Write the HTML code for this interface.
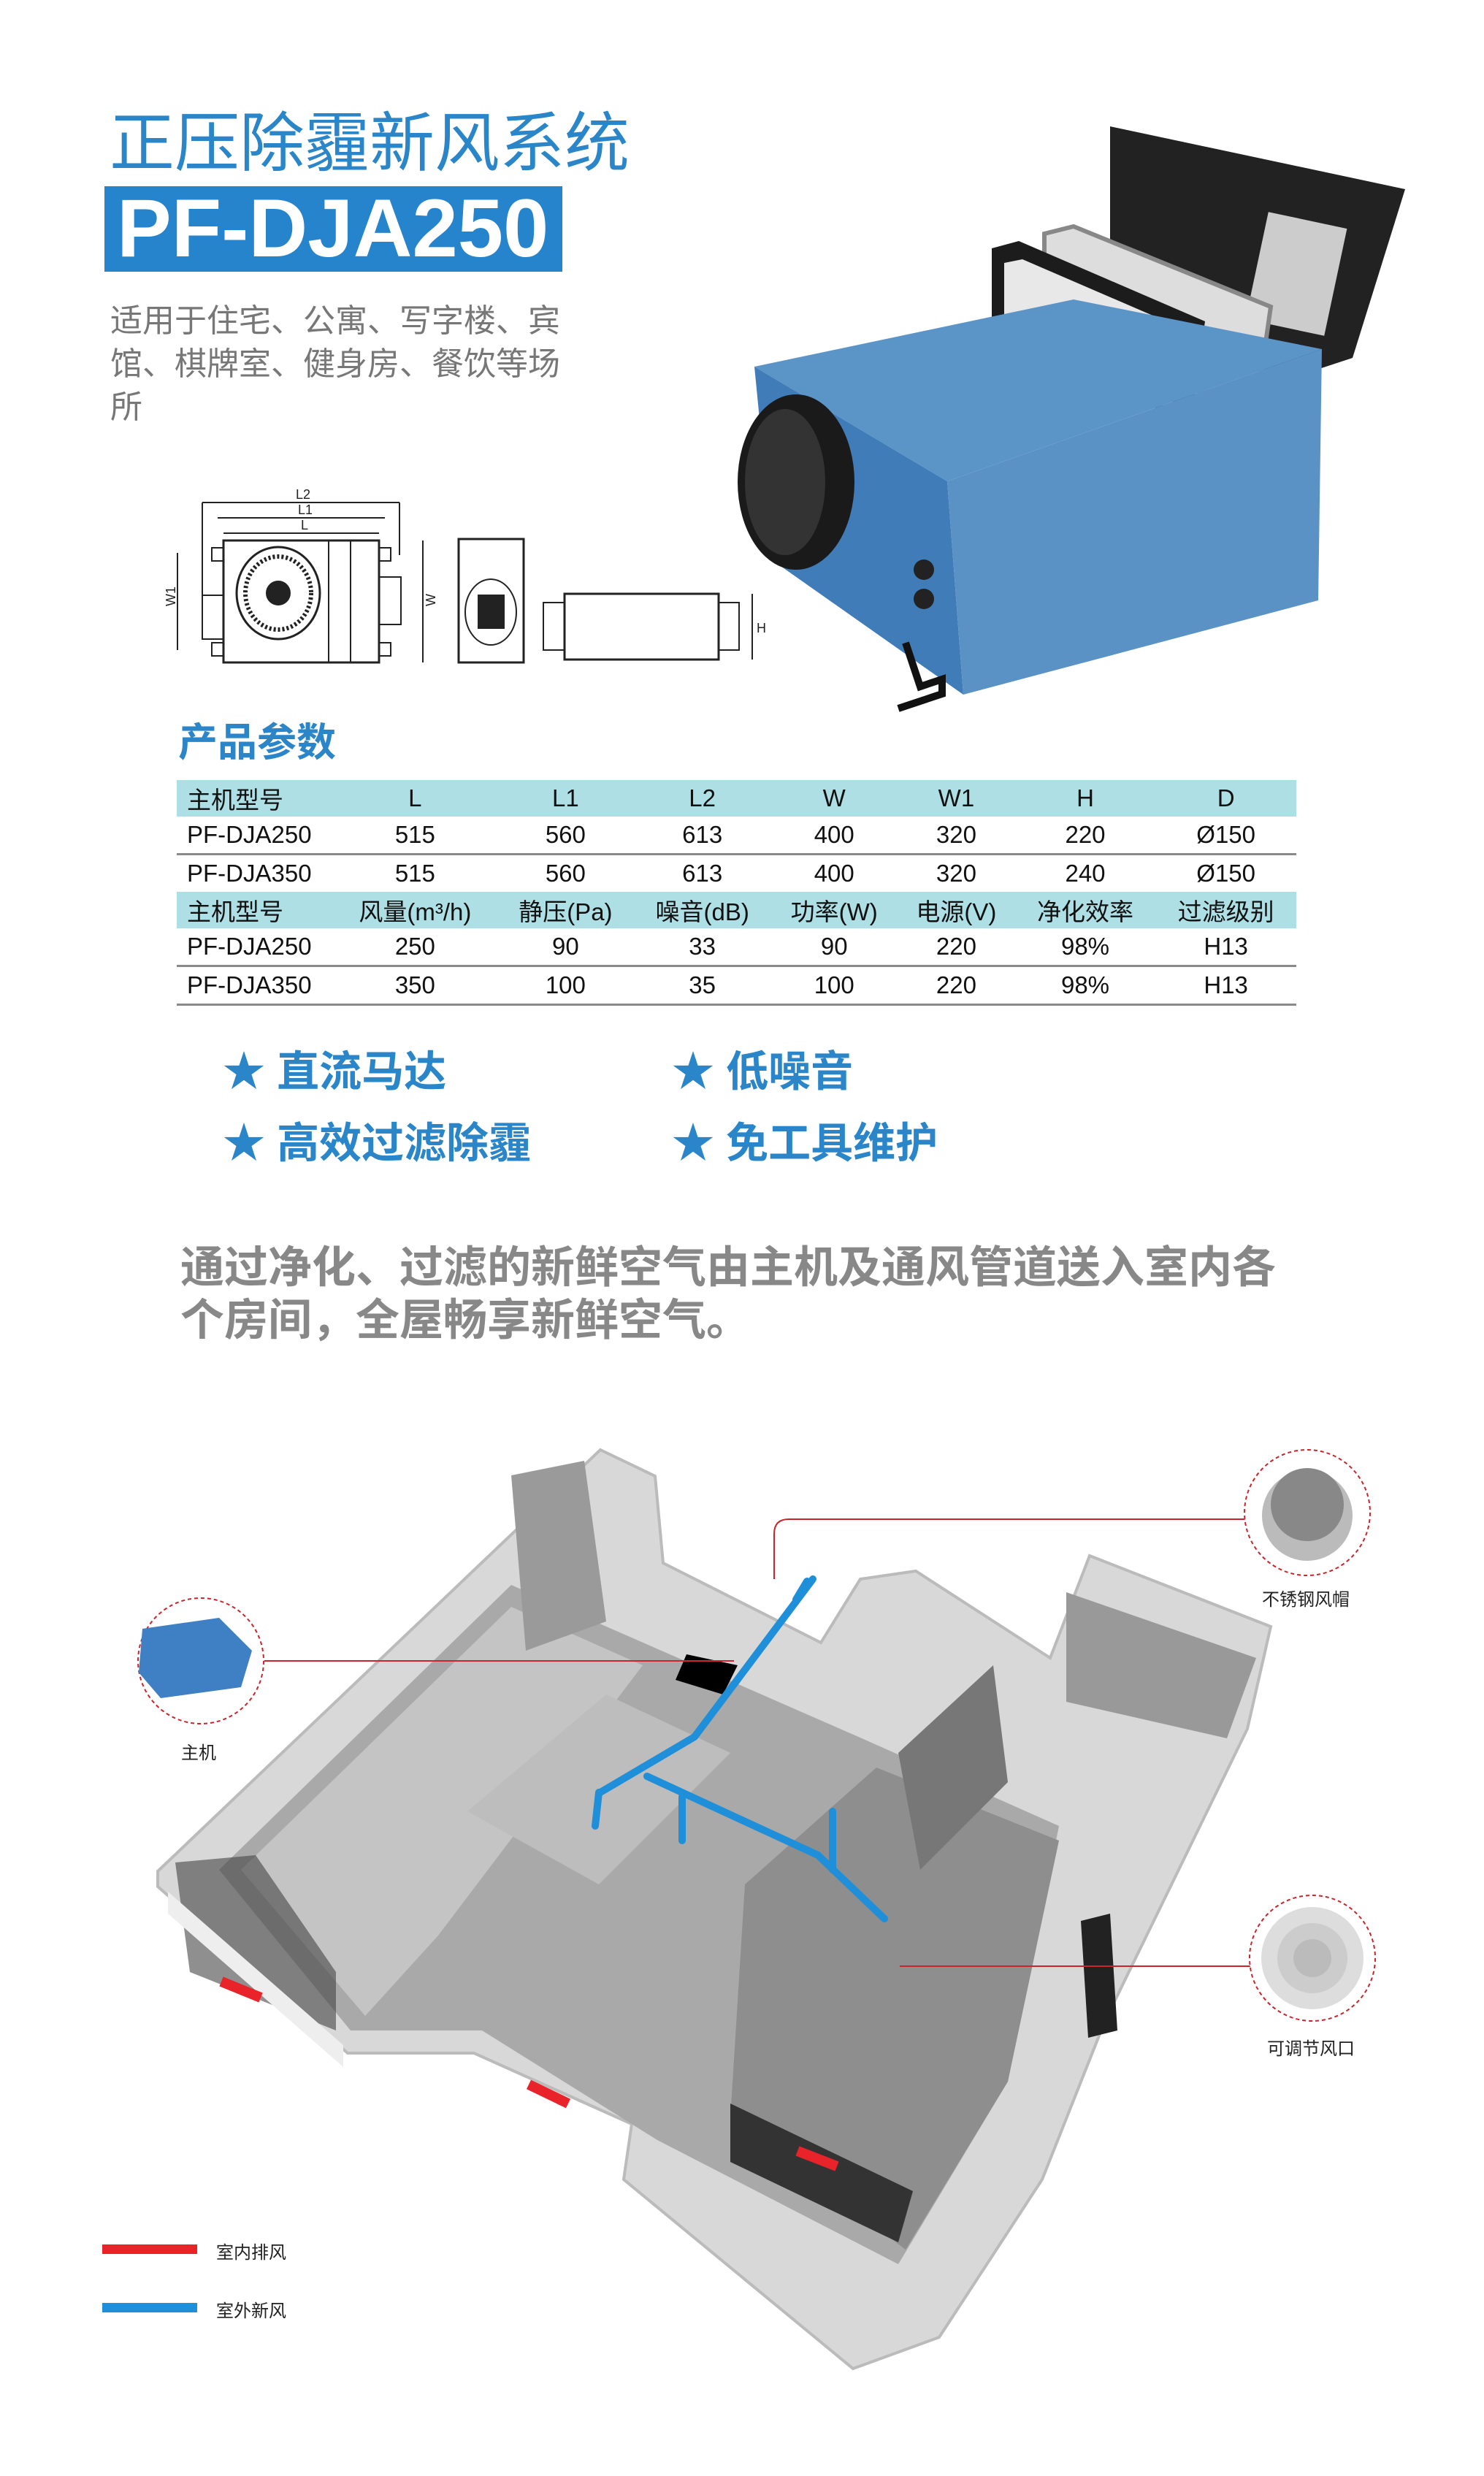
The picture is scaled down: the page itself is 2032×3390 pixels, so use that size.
<!DOCTYPE html>
<html><head><meta charset="utf-8"><style>
body{margin:0;}
#p{position:relative;width:2032px;height:3390px;background:#fff;overflow:hidden;font-family:"Liberation Sans","Noto Sans CJK SC",sans-serif;}
.a{position:absolute;white-space:nowrap;}
table{position:absolute;left:242px;top:1068px;width:1533px;border-collapse:collapse;font-size:33px;color:#111;}
td{height:50px;padding:0;text-align:center;}
td:first-child{text-align:left;padding-left:14px;width:200px;}
tr.h td{background:#aedfe5;}
tr.b td{border-bottom:3px solid #8a8a8a;}
.star{font-size:58px;font-weight:bold;color:#2a86c8;}
svg{position:absolute;left:0;top:0;}
</style></head><body><div id="p">
<svg width="2032" height="3390" viewBox="0 0 2032 3390">
 <polygon points="1520,173 1924,259 1852,490 1700,540 1520,420" fill="#222"/>
 <rect x="1720" y="300" width="110" height="150" fill="#ccc" transform="rotate(12 1775 375)"/>
 <polygon points="1430,320 1470,310 1740,420 1720,560 1430,470" fill="#ddd" stroke="#888" stroke-width="6"/>
 <polygon points="1358,340 1395,330 1650,440 1630,580 1358,460" fill="#1c1c1c"/>
 <polygon points="1375,360 1400,355 1620,450 1605,560 1375,470" fill="#e8e8e8"/>
 <polygon points="1033,502 1470,410 1810,478 1297,659" fill="#5b95c8"/>
 <polygon points="1033,502 1297,659 1319,951 1059,768" fill="#3f7cb8"/>
 <polygon points="1297,659 1810,478 1805,822 1319,951" fill="#5a92c6"/>
 <ellipse cx="1090" cy="660" rx="80" ry="120" fill="#1a1a1a"/>
 <ellipse cx="1075" cy="660" rx="55" ry="100" fill="#333"/>
 <path d="M1240 880 l20 60 30 -10 0 20 -60 20" stroke="#111" stroke-width="10" fill="none"/>
 <circle cx="1265" cy="780" r="14" fill="#222"/><circle cx="1265" cy="820" r="14" fill="#222"/>
 <g stroke="#222" stroke-width="2" fill="none">
  <line x1="277" y1="688" x2="547" y2="688"/><line x1="298" y1="709" x2="527" y2="709"/><line x1="306" y1="730" x2="519" y2="730"/>
  <line x1="277" y1="688" x2="277" y2="860"/><line x1="547" y1="688" x2="547" y2="760"/>
  <rect x="306" y="740" width="213" height="167" stroke-width="3"/>
  <rect x="290" y="750" width="16" height="18"/><rect x="519" y="750" width="16" height="18"/>
  <rect x="290" y="880" width="16" height="18"/><rect x="519" y="880" width="16" height="18"/>
  <ellipse cx="381" cy="812" rx="57" ry="63" stroke-width="3"/><ellipse cx="381" cy="812" rx="45" ry="50" stroke-width="6" stroke-dasharray="3 3"/>
  <circle cx="381" cy="812" r="16" fill="#222"/>
  <rect x="277" y="815" width="29" height="60"/><rect x="519" y="790" width="30" height="65"/>
  <line x1="450" y1="740" x2="450" y2="907"/><line x1="480" y1="740" x2="480" y2="907"/>
  <line x1="579" y1="740" x2="579" y2="907"/><line x1="243" y1="757" x2="243" y2="890"/>
  <rect x="628" y="738" width="89" height="169" stroke-width="3"/>
  <ellipse cx="672" cy="838" rx="35" ry="45"/><rect x="655" y="815" width="35" height="45" fill="#222"/>
  <rect x="773" y="813" width="211" height="90" stroke-width="3"/>
  <rect x="744" y="825" width="29" height="65"/><rect x="984" y="825" width="28" height="65"/>
  <line x1="1030" y1="813" x2="1030" y2="903"/>
 </g>
 <g font-size="18" fill="#222" font-family="Liberation Sans">
  <text x="405" y="683">L2</text><text x="408" y="704">L1</text><text x="412" y="725">L</text>
  <text x="240" y="830" transform="rotate(-90 240 830)">W1</text><text x="596" y="830" transform="rotate(-90 596 830)">W</text>
  <text x="1036" y="866">H</text>
 </g>
 <polygon points="216,2562 822,1985 897,2021 908,2140 1124,2249 1178,2162 1254,2151 1438,2270 1492,2130 1740,2227 1708,2367 1513,2767 1427,2984 1286,3200 1168,3243 854,2984 865,2908 649,2811 476,2811 216,2583" fill="#d8d8d8" stroke="#bbb" stroke-width="4"/>
 <polygon points="300,2560 700,2170 1180,2380 1450,2500 1380,2850 1230,3100 900,2930 660,2780 480,2780" fill="#a9a9a9"/>
 <polygon points="330,2560 700,2200 880,2280 600,2650 500,2760" fill="#c4c4c4"/>
 <polygon points="1020,2580 1200,2420 1450,2520 1380,2850 1240,3080 1000,2900" fill="#8e8e8e"/>
 <polygon points="1230,2400 1360,2280 1380,2440 1260,2560" fill="#777"/>
 <polygon points="1460,2180 1720,2270 1680,2380 1460,2330" fill="#999"/>
 <polygon points="640,2480 830,2320 1000,2400 820,2580" fill="#bdbdbd"/>
 <polygon points="700,2020 800,2000 830,2220 720,2260" fill="#9a9a9a"/>
 <polygon points="240,2550 350,2540 460,2700 460,2780 260,2700" fill="#444" opacity=".6"/>
 <polygon points="230,2590 470,2800 470,2830 230,2620" fill="#eee"/>
 <polygon points="1000,2880 1250,3000 1230,3070 1000,2960" fill="#333"/>
 <polygon points="1480,2630 1520,2620 1530,2780 1490,2790" fill="#222"/>
 <polygon points="940,2265 1010,2280 990,2320 925,2300" fill="#000"/>
 <g stroke="#1e8fd8" stroke-width="10" fill="none" stroke-linecap="round">
  <path d="M1113 2162 L951 2378 L822 2454"/><path d="M886 2432 L1120 2540 L1211 2627"/>
  <path d="M934 2460 L934 2520"/><path d="M1140 2480 L1140 2560"/><path d="M820 2454 L815 2500"/>
  <path d="M1090 2190 l15 -25"/>
 </g>
 <g stroke="#e8242a" stroke-width="14"><line x1="303" y1="2713" x2="357" y2="2735"/><line x1="724" y1="2854" x2="778" y2="2880"/><line x1="1092" y1="2945" x2="1146" y2="2966"/></g>
 <g stroke="#c9252c" stroke-width="2" fill="none">
  <line x1="362" y1="2274" x2="1005" y2="2274"/>
  <path d="M1060 2162 L1060 2100 Q1060 2080 1080 2080 L1705 2080"/>
  <line x1="1232" y1="2692" x2="1712" y2="2692"/>
 </g>
 <circle cx="275" cy="2274" r="86" fill="#fff" stroke="#c9252c" stroke-width="2" stroke-dasharray="5 4"/>
 <polygon points="195,2230 300,2215 345,2260 330,2310 220,2325 190,2290" fill="#3f7fc4"/>
 <circle cx="1790" cy="2071" r="86" fill="#fff" stroke="#c9252c" stroke-width="2" stroke-dasharray="5 4"/>
 <circle cx="1790" cy="2075" r="62" fill="#bbb"/><circle cx="1790" cy="2060" r="50" fill="#888"/>
 <circle cx="1797" cy="2681" r="86" fill="#fff" stroke="#c9252c" stroke-width="2" stroke-dasharray="5 4"/>
 <circle cx="1797" cy="2681" r="70" fill="#ddd"/><circle cx="1797" cy="2681" r="48" fill="#ccc"/><circle cx="1797" cy="2681" r="26" fill="#bbb"/>
 <rect x="140" y="3073" width="130" height="13" fill="#e8242a"/>
 <rect x="140" y="3153" width="130" height="13" fill="#1e8fd8"/>
</svg>
<div class="a" style="left:150px;top:124px;font-size:89px;color:#2a86c8;">正压除霾新风系统</div>
<div class="a" style="left:143px;top:255px;width:627px;height:117px;background:#2584cc;"></div>
<div class="a" style="left:160px;top:248px;font-size:112px;font-weight:bold;color:#fff;">PF-DJA250</div>
<div class="a" style="left:151px;top:410px;font-size:44px;color:#777;line-height:59px;">适用于住宅、公寓、写字楼、宾<br>馆、棋牌室、健身房、餐饮等场<br>所</div>
<div class="a" style="left:244px;top:972px;font-size:54px;font-weight:bold;color:#2a86c8;">产品参数</div>
<table>
<tr class="h"><td>主机型号</td><td>L</td><td>L1</td><td>L2</td><td>W</td><td>W1</td><td>H</td><td>D</td></tr>
<tr class="b"><td>PF-DJA250</td><td>515</td><td>560</td><td>613</td><td>400</td><td>320</td><td>220</td><td>Ø150</td></tr>
<tr><td>PF-DJA350</td><td>515</td><td>560</td><td>613</td><td>400</td><td>320</td><td>240</td><td>Ø150</td></tr>
<tr class="h"><td>主机型号</td><td>风量(m³/h)</td><td>静压(Pa)</td><td>噪音(dB)</td><td>功率(W)</td><td>电源(V)</td><td>净化效率</td><td>过滤级别</td></tr>
<tr class="b"><td>PF-DJA250</td><td>250</td><td>90</td><td>33</td><td>90</td><td>220</td><td>98%</td><td>H13</td></tr>
<tr class="b"><td>PF-DJA350</td><td>350</td><td>100</td><td>35</td><td>100</td><td>220</td><td>98%</td><td>H13</td></tr>
</table>
<div class="a star" style="left:305px;top:1420px;">★ 直流马达</div>
<div class="a star" style="left:920px;top:1420px;">★ 低噪音</div>
<div class="a star" style="left:305px;top:1518px;">★ 高效过滤除霾</div>
<div class="a star" style="left:920px;top:1518px;">★ 免工具维护</div>
<div class="a" style="left:247px;top:1700px;font-size:60px;font-weight:bold;color:#888;line-height:72px;">通过净化、过滤的新鲜空气由主机及通风管道送入室内各<br>个房间，全屋畅享新鲜空气。</div>
<div class="a" style="left:248px;top:2380px;font-size:24px;color:#222;">主机</div>
<div class="a" style="left:1728px;top:2170px;font-size:24px;color:#222;">不锈钢风帽</div>
<div class="a" style="left:1735px;top:2785px;font-size:24px;color:#222;">可调节风口</div>
<div class="a" style="left:296px;top:3064px;font-size:24px;color:#222;">室内排风</div>
<div class="a" style="left:296px;top:3144px;font-size:24px;color:#222;">室外新风</div>
</div></body></html>
